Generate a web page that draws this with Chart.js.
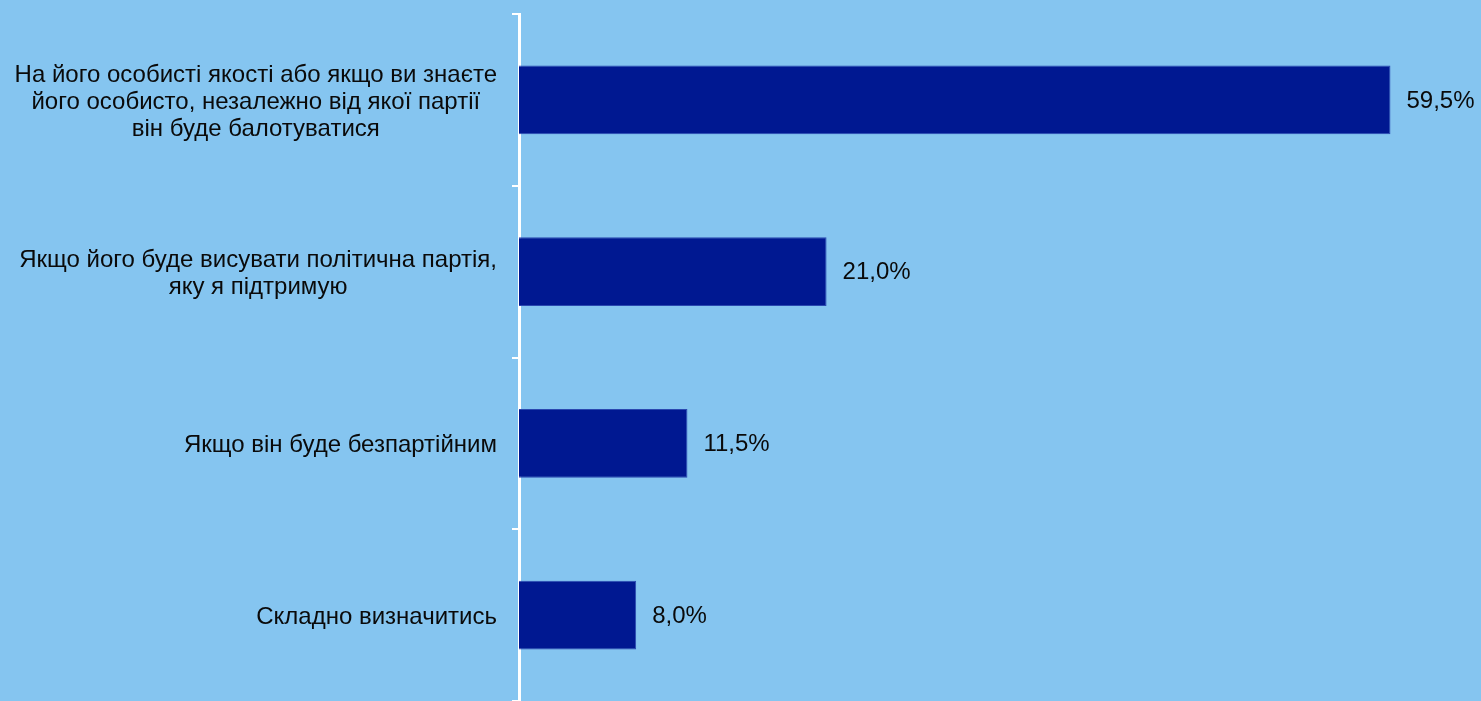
<!DOCTYPE html>
<html>
<head>
<meta charset="utf-8">
<script src="https://cdn.jsdelivr.net/npm/chart.js@4"></script>
<style>
  html, body { margin: 0; padding: 0; background: #85c5f0; }
  #wrap { width: 1481px; height: 701px; }
</style>
</head>
<body>
<div id="wrap"><canvas id="chart"></canvas></div>
<script>
const labels = [
  ['На його особисті якості або якщо ви знаєте', 'його особисто, незалежно від якої партії', 'він буде балотуватися'],
  ['Якщо його буде висувати політична партія,', 'яку я підтримую'],
  ['Якщо він буде безпартійним'],
  ['Складно визначитись']
];
const values = [59.5, 21.0, 11.5, 8.0];

const FONT = '24px "Liberation Sans", Arial, sans-serif';

function fmt(v) {
  return v.toFixed(1).replace('.', ',') + '%';
}

// category labels: block right-aligned to the axis, lines centred inside the block
const labelPlugin = {
  id: 'labelPlugin',
  afterDraw(chart) {
    const ctx = chart.ctx;
    const yScale = chart.scales.y;
    const right = chart.chartArea.left - 22;
    ctx.save();
    ctx.font = FONT;
    ctx.fillStyle = '#0a0a0a';
    ctx.textBaseline = 'middle';
    ctx.textAlign = 'center';
    labels.forEach((lines, i) => {
      const w = Math.max(...lines.map((l) => ctx.measureText(l).width));
      const cx = right - w / 2;
      const cy = yScale.getPixelForTick(i) + 2;
      const lh = 27;
      lines.forEach((l, j) => {
        ctx.fillText(l, cx, cy + (j - (lines.length - 1) / 2) * lh);
      });
    });

    // value labels after the bars
    const meta = chart.getDatasetMeta(0);
    ctx.textAlign = 'left';
    meta.data.forEach((bar, i) => {
      ctx.fillText(fmt(values[i]), bar.x + 16, bar.y + 1);
    });
    ctx.restore();
  }
};

new Chart(document.getElementById('chart').getContext('2d'), {
  type: 'bar',
  data: {
    labels: labels,
    datasets: [{
      data: values,
      backgroundColor: '#001891',
      borderColor: '#2a48b0',
      borderWidth: 1,
      barPercentage: 0.4,
      categoryPercentage: 1
    }]
  },
  options: {
    indexAxis: 'y',
    responsive: true,
    maintainAspectRatio: false,
    animation: false,
    layout: { padding: { top: 14, bottom: 0, left: 0, right: 10 } },
    plugins: {
      legend: { display: false },
      tooltip: { enabled: false }
    },
    scales: {
      x: {
        display: false,
        min: 0,
        max: 65
      },
      y: {
        offset: true,
        ticks: { display: false },
        grid: {
          offset: true,
          drawOnChartArea: false,
          drawTicks: true,
          tickLength: 7,
          color: '#ffffff',
          lineWidth: 2
        },
        border: { display: true, color: '#ffffff', width: 3 },
        afterFit(scale) { scale.width = 519; }
      }
    }
  },
  plugins: [labelPlugin]
});
</script>
</body>
</html>
